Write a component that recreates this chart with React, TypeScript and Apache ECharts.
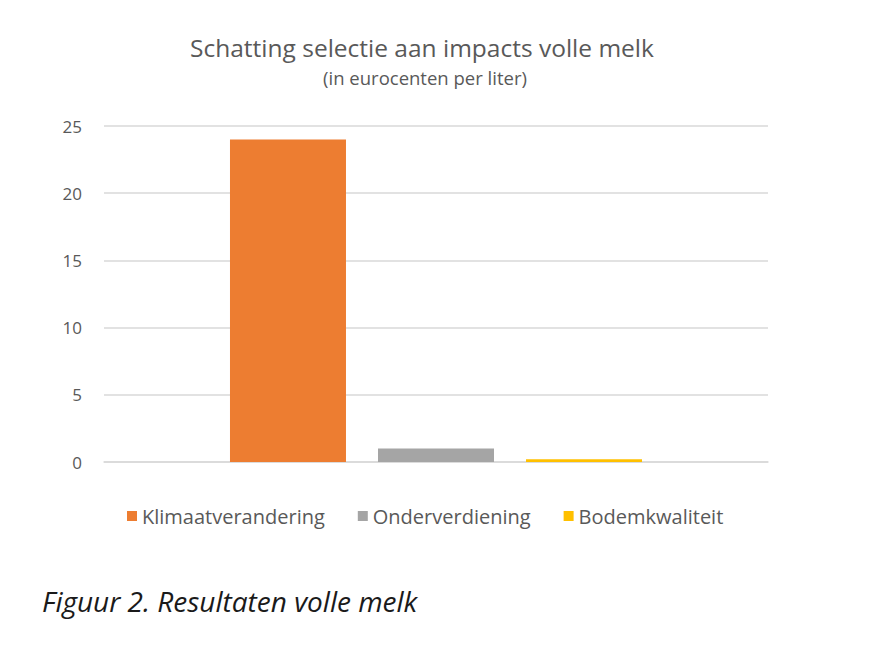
import React, { useEffect, useRef } from "react";
import * as echarts from "echarts";

const categories = [""];
const seriesNames = ["Klimaatverandering", "Onderverdiening", "Bodemkwaliteit"];
const seriesValues = [[24], [1], [0.2]];
const seriesColors = ["#ED7D31", "#A5A5A5", "#FFC000"];
const yTicks = { min: 0, max: 25, interval: 5 };
const titleText = "Schatting selectie aan impacts volle melk";
const subtitleText = "(in eurocenten per liter)";
const captionText = "Figuur 2. Resultaten volle melk";

export default function App() {
  const ref = useRef<HTMLDivElement>(null);
  useEffect(() => {
    if (!ref.current) return;
    const chart = echarts.init(ref.current, undefined, { renderer: "svg" });
    const font = "'Open Sans', sans-serif";
    chart.setOption({
      animation: false,
      backgroundColor: "#ffffff",
      title: [
        {
          text: titleText,
          left: 422,
          textAlign: "center",
          top: 35,
          padding: 0,
          textStyle: { fontFamily: font, fontSize: 24.5, fontWeight: "normal", color: "#595959" },
        },
        {
          text: subtitleText,
          left: 425,
          textAlign: "center",
          top: 68,
          padding: 0,
          textStyle: { fontFamily: font, fontSize: 18.5, fontWeight: "normal", color: "#595959" },
        },
      ],
      legend: {
        bottom: 120,
        left: 127,
        padding: 0,
        itemWidth: 10,
        itemHeight: 10,
        itemGap: 33,
        icon: "rect",
        textStyle: { fontFamily: font, fontSize: 20, color: "#595959" },
        data: seriesNames,
      },
      grid: { left: 104, right: 102, top: 126, bottom: 184, containLabel: false },
      xAxis: {
        type: "category",
        data: categories,
        axisLine: { lineStyle: { color: "#d9d9d9", width: 1.5 } },
        axisTick: { show: false },
        axisLabel: { show: false },
      },
      yAxis: {
        type: "value",
        min: yTicks.min,
        max: yTicks.max,
        interval: yTicks.interval,
        axisLine: { show: false },
        axisTick: { show: false },
        axisLabel: { fontFamily: font, fontSize: 17, color: "#595959", margin: 22 },
        splitLine: { lineStyle: { color: "#d9d9d9", width: 1.5 } },
      },
      series: seriesNames.map((name, i) => ({
        name,
        type: "bar",
        data: seriesValues[i],
        barWidth: 116,
        barGap: "27.6%",
        itemStyle: { color: seriesColors[i] },
      })),
      graphic: [
        {
          type: "text",
          left: 42,
          top: 587,
          style: {
            text: captionText,
            fontFamily: font,
            fontStyle: "italic",
            fontSize: 28,
            fill: "#1a1a1a",
          },
        },
      ],
    });
    return () => chart.dispose();
  }, []);
  return (
    <div
      ref={ref}
      style={{ position: "fixed", left: 0, top: 0, width: 870, height: 646 }}
    />
  );
}
